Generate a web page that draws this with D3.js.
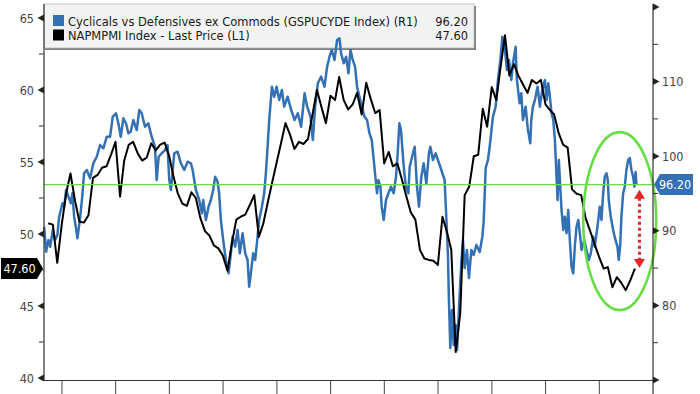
<!DOCTYPE html>
<html><head><meta charset="utf-8">
<script src="https://cdn.jsdelivr.net/npm/d3@7"></script>
<style>body{margin:0;background:#fff}svg{display:block}</style>
</head><body><svg id="c" width="700" height="394"></svg>
<script>
// ---------- DATA ----------
const legendNames = ["Cyclicals vs Defensives ex Commods (GSPUCYDE Index) (R1)", "NAPMPMI Index - Last Price (L1)"];
const lastCyc = "96.20", lastPmi = "47.60";
const lastCycValue = 96.20, lastPmiValue = 47.60;
const leftTicks = [40, 45, 50, 55, 60, 65];
const leftMinor = [42.5, 47.5, 52.5, 57.5, 62.5];
const rightTicks = [70, 80, 90, 100, 110, 120];
const rightLabels = [80, 90, 100, 110];
const rightMinor = [75, 85, 95, 105, 115];
const yearTicks = [2013, 2014, 2015, 2016, 2017, 2018, 2019, 2020, 2021, 2022, 2023];
// NAPM PMI monthly, Sep 2012 .. Aug 2023
const pmiValues = [
50.75,50.65,48.0,50.7,52.9,54.2,52.3,50.85,50.8,51.3,53.9,54.1,
54.6,54.7,55.5,56.4,52.6,55.1,56.2,56.4,55.6,55.1,55.3,56.3,
55.8,56.2,56.35,55.4,53.9,52.8,52.1,51.95,52.9,52.5,51.1,50.2,
49.9,49.2,49.0,48.5,47.45,49.3,51.0,51.2,51.35,52.0,52.7,49.8,
50.7,52.2,53.6,55.0,56.4,57.7,56.9,55.9,56.4,56.25,56.6,58.3,
60.0,58.8,57.7,59.6,59.3,60.9,59.3,58.65,59.0,59.8,58.3,60.5,
59.4,58.4,58.6,54.9,55.7,54.7,54.9,53.8,52.6,51.5,51.0,48.9,
48.3,48.2,48.15,47.85,51.2,50.2,48.9,41.8,44.5,52.7,53.3,55.4,
55.5,58.7,57.45,60.2,59.3,61.5,63.8,61.0,61.8,61.0,60.4,59.8,
60.7,60.45,60.7,59.0,58.6,58.3,57.0,56.2,56.0,53.1,52.8,52.7,
51.1,50.2,49.3,48.4,47.6,47.7,46.3,47.0,46.6,46.1,46.8,47.6];
// Cyclicals vs Defensives: [decimal year, value]
const cycSeries = [
[2012.669,90.55],[2012.706,87.2],[2012.749,88.77],[2012.781,87.87],[2012.831,90.11],[2012.873,88.77],[2012.916,89.44],[2012.948,91.89],[2012.979,92.79],[2013.009,93.69],
[2013.041,93.23],[2013.078,95.47],[2013.121,94.57],[2013.165,93.69],[2013.195,95.03],[2013.227,91.89],[2013.258,90.55],[2013.288,88.99],[2013.338,91.72],[2013.381,94.8],
[2013.412,97.71],[2013.463,98.15],[2013.524,97.04],[2013.585,99.05],[2013.648,99.93],[2013.71,101.5],[2013.771,101.06],[2013.834,102.61],[2013.896,102.61],[2013.946,105.3],
[2014.007,105.75],[2014.05,104.41],[2014.095,102.61],[2014.143,105.08],[2014.193,104.41],[2014.236,103.07],[2014.281,103.28],[2014.329,104.85],[2014.392,103.51],[2014.44,106.19],
[2014.485,105.75],[2014.546,103.95],[2014.608,104.41],[2014.671,102.61],[2014.732,101.27],[2014.764,96.81],[2014.801,99.93],[2014.857,100.39],[2014.918,100.83],[2014.965,101.5],
[2014.998,96.81],[2015.03,95.47],[2015.091,100.39],[2015.154,100.6],[2015.215,99.05],[2015.277,98.15],[2015.34,99.26],[2015.401,99.05],[2015.433,98.15],[2015.494,95.47],
[2015.556,94.13],[2015.606,92.35],[2015.63,94.13],[2015.68,91.45],[2015.73,93.23],[2015.773,94.13],[2015.816,95.47],[2015.853,97.25],[2015.898,96.58],[2015.927,95.03],
[2015.959,91.45],[2016.002,88.77],[2016.052,86.09],[2016.102,84.3],[2016.145,86.98],[2016.176,89.21],[2016.225,87.87],[2016.269,90.11],[2016.312,86.98],[2016.362,89.67],
[2016.411,86.98],[2016.455,86.09],[2016.485,82.51],[2016.516,84.3],[2016.559,86.98],[2016.596,86.09],[2016.641,89.21],[2016.671,91.45],[2016.721,93.23],[2016.764,95.03],
[2016.795,97.71],[2016.827,101.27],[2016.857,104.85],[2016.907,109.32],[2016.95,107.98],[2016.994,109.32],[2017.043,107.53],[2017.093,108.87],[2017.135,106.64],[2017.199,107.98],
[2017.266,106.19],[2017.329,104.85],[2017.39,105.75],[2017.451,103.95],[2017.515,108.43],[2017.563,106.64],[2017.626,105.3],[2017.669,102.17],[2017.712,106.64],[2017.762,109.77],
[2017.823,110.66],[2017.886,109.32],[2017.935,112.0],[2017.979,113.34],[2018.022,114.24],[2018.072,112.9],[2018.121,115.58],[2018.165,115.8],[2018.195,113.79],[2018.245,112.45],
[2018.288,113.34],[2018.332,111.11],[2018.37,114.24],[2018.412,112.9],[2018.455,112.0],[2018.492,109.32],[2018.537,107.98],[2018.58,106.64],[2018.63,105.3],[2018.678,104.85],
[2018.723,103.07],[2018.766,102.17],[2018.803,99.49],[2018.827,97.71],[2018.864,95.03],[2018.89,96.81],[2018.927,95.91],[2018.951,93.23],[2018.989,91.45],[2019.031,94.13],
[2019.076,95.03],[2019.124,95.91],[2019.174,95.03],[2019.217,97.25],[2019.249,100.39],[2019.28,104.41],[2019.31,103.51],[2019.342,100.39],[2019.373,97.71],[2019.403,95.91],
[2019.448,95.03],[2019.472,98.59],[2019.533,100.39],[2019.565,101.27],[2019.608,95.91],[2019.645,93.23],[2019.689,97.25],[2019.732,99.05],[2019.782,96.37],[2019.831,100.39],
[2019.857,101.27],[2019.905,99.49],[2019.955,100.39],[2019.998,99.49],[2020.061,98.15],[2020.122,96.81],[2020.154,91.72],[2020.184,86.76],[2020.202,80.72],[2020.228,74.29],
[2020.258,79.38],[2020.29,74.69],[2020.327,77.37],[2020.355,74.02],[2020.383,78.71],[2020.407,82.06],[2020.433,85.82],[2020.463,88.77],[2020.494,85.01],[2020.537,87.43],
[2020.574,83.67],[2020.619,87.43],[2020.661,86.76],[2020.712,88.1],[2020.773,87.16],[2020.823,89.21],[2020.847,91.18],[2020.885,98.42],[2020.927,99.49],[2020.959,101.27],
[2021.02,105.3],[2021.07,106.64],[2021.113,110.22],[2021.158,112.9],[2021.195,116.02],[2021.238,114.68],[2021.28,111.56],[2021.318,112.9],[2021.362,110.22],[2021.392,112.45],
[2021.442,114.68],[2021.466,110.22],[2021.516,107.09],[2021.548,108.43],[2021.578,104.85],[2021.628,106.64],[2021.671,103.51],[2021.715,101.73],[2021.734,104.85],[2021.764,106.64],
[2021.801,107.53],[2021.851,109.32],[2021.894,106.64],[2021.938,108.87],[2021.987,110.22],[2022.018,107.53],[2022.05,109.77],[2022.08,107.98],[2022.111,105.75],[2022.143,104.85],
[2022.173,102.17],[2022.204,97.25],[2022.223,94.13],[2022.247,99.49],[2022.273,95.91],[2022.297,92.79],[2022.329,90.11],[2022.358,91.89],[2022.39,89.67],[2022.422,92.79],
[2022.451,88.77],[2022.483,85.19],[2022.515,84.3],[2022.544,87.87],[2022.576,90.55],[2022.608,91.45],[2022.637,89.67],[2022.669,87.43],[2022.719,88.77],[2022.762,87.43],
[2022.805,86.09],[2022.842,86.98],[2022.886,89.21],[2022.916,87.87],[2022.966,90.55],[2023.009,93.23],[2023.041,91.45],[2023.072,95.03],[2023.102,97.25],[2023.134,97.71],
[2023.158,96.81],[2023.176,94.13],[2023.213,91.89],[2023.258,90.11],[2023.301,88.77],[2023.338,87.87],[2023.362,86.09],[2023.388,87.87],[2023.412,91.89],[2023.444,95.03],
[2023.474,95.91],[2023.505,98.15],[2023.537,99.49],[2023.567,99.76],[2023.598,98.15],[2023.63,97.25],[2023.654,95.91],[2023.676,97.88],[2023.691,96.2]];

// ---------- LAYOUT ----------
const L = 44, R = 653, T = 7, B = 380;
const FONT = "'DejaVu Sans Condensed','DejaVu Sans',sans-serif";
const BLUE = "#3470b4";
const GREEN = "#66dd44";
const svg = d3.select("#c");
svg.append("rect").attr("width",700).attr("height",394).attr("fill","#fff");

const x = d3.scaleTime().domain([new Date(2012,8,1), new Date(2024,0,1)]).range([L, R]);
const yL = d3.scaleLinear().domain([40, 65]).range([378, 18]);
const yR = d3.scaleLinear().domain([70, 120]).range([B, T]);

function decToDate(t){ const y = Math.floor(t); const a = new Date(y,0,1), b = new Date(y+1,0,1); return new Date(a.getTime() + (t-y)*(b-a)); }
const pmi = pmiValues.map((v,i) => ({d: new Date(2012, 9+i, 0), v}));
const cyc = cycSeries.map(([t,v]) => ({d: decToDate(t), v}));

// legend box (behind lines)
const lg = svg.append("g");
lg.append("rect").attr("x", L+1).attr("y", 6).attr("width", 431).attr("height", 44).attr("fill", "#7d7d7d");
lg.append("rect").attr("x", L).attr("y", 4).attr("width", 430).attr("height", 44).attr("fill", "#f3f3f3").attr("stroke", "#b8b8b8").attr("stroke-width", 0.8);
lg.append("rect").attr("x", 53).attr("y", 15).attr("width", 11).attr("height", 11).attr("fill", BLUE);
lg.append("rect").attr("x", 53).attr("y", 29.5).attr("width", 11).attr("height", 11).attr("fill", "#000");
const t1 = lg.append("text").attr("x", 68).attr("y", 25.5).text(legendNames[0]);
const t2 = lg.append("text").attr("x", 68).attr("y", 40).text(legendNames[1]);
[t1,t2].forEach(t => t.attr("font-family", FONT).attr("font-size", 13.5).attr("fill", "#1a1a1a"));
const w1 = t1.node().getComputedTextLength();
const fs = 13.5 * 350 / w1;
t1.attr("font-size", fs); t2.attr("font-size", fs);
lg.append("text").attr("x", 468).attr("y", 25.5).attr("text-anchor","end").text(lastCyc).attr("font-family", FONT).attr("font-size", fs).attr("fill","#1a1a1a");
lg.append("text").attr("x", 468).attr("y", 40).attr("text-anchor","end").text(lastPmi).attr("font-family", FONT).attr("font-size", fs).attr("fill","#1a1a1a");

// series
svg.append("path").datum(cyc)
  .attr("d", d3.line().x(d => x(d.d)).y(d => yR(d.v)))
  .attr("fill","none").attr("stroke", BLUE).attr("stroke-width", 2.5).attr("stroke-linejoin","round");
svg.append("path").datum(pmi)
  .attr("d", d3.line().x(d => x(d.d)).y(d => yL(d.v)))
  .attr("fill","none").attr("stroke", "#000").attr("stroke-width", 2).attr("stroke-linejoin","round");

// green horizontal line at last value
svg.append("line").attr("x1", L).attr("x2", R).attr("y1", yR(lastCycValue)).attr("y2", yR(lastCycValue))
  .attr("stroke", GREEN).attr("stroke-width", 1.3);

// ellipse annotation
svg.append("ellipse").attr("cx", x(new Date(2023,4,20))).attr("cy", yR(91.3)).attr("rx", 36.5).attr("ry", 89)
  .attr("fill","none").attr("stroke", GREEN).attr("stroke-width", 2.6);

// red dotted double arrow
const ax = x(new Date(2023,9,1));
const aTop = yR(95.5), aBot = yR(85.0);
svg.append("line").attr("x1", ax).attr("x2", ax).attr("y1", aTop+8).attr("y2", aBot-8)
  .attr("stroke", "#e4252b").attr("stroke-width", 3).attr("stroke-dasharray", "3,3");
svg.append("path").attr("d", `M${ax},${aTop} L${ax-5.5},${aTop+9} L${ax+5.5},${aTop+9} Z`).attr("fill", "#e4252b");
svg.append("path").attr("d", `M${ax},${aBot} L${ax-5.5},${aBot-9} L${ax+5.5},${aBot-9} Z`).attr("fill", "#e4252b");

// axes frame
svg.append("line").attr("x1", L).attr("x2", L).attr("y1", 4).attr("y2", B+0.5).attr("stroke","#333").attr("stroke-width",1.2);
svg.append("line").attr("x1", R).attr("x2", R).attr("y1", 4).attr("y2", 394).attr("stroke","#333").attr("stroke-width",1.2);
svg.append("line").attr("x1", L).attr("x2", R).attr("y1", B+0.5).attr("y2", B+0.5).attr("stroke","#333").attr("stroke-width",1.2);

// left axis
const gl = svg.append("g").attr("transform", `translate(${L-8},0)`)
  .call(d3.axisLeft(yL).tickValues(leftTicks).tickSize(0).tickPadding(2).tickFormat(d3.format("d")));
gl.select(".domain").remove();
gl.selectAll("text").attr("font-family", FONT).attr("font-size", 12.5).attr("fill", "#444");
leftTicks.forEach(v => { const y = yL(v); svg.append("path").attr("d", `M${L},${y-3.5} L${L-6.5},${y} L${L},${y+3.5} Z`).attr("fill","#222"); });
leftMinor.forEach(v => { const y = yL(v); svg.append("line").attr("x1", L-5).attr("x2", L).attr("y1", y).attr("y2", y).attr("stroke","#333"); });

// right axis
const gr = svg.append("g").attr("transform", `translate(${R+8},0)`)
  .call(d3.axisRight(yR).tickValues(rightLabels).tickSize(0).tickPadding(1).tickFormat(d3.format("d")));
gr.select(".domain").remove();
gr.selectAll("text").attr("font-family", FONT).attr("font-size", 12.5).attr("fill", "#444");
rightTicks.forEach(v => { const y = yR(v); svg.append("path").attr("d", `M${R},${y-3.5} L${R+6.5},${y} L${R},${y+3.5} Z`).attr("fill","#222"); });
rightMinor.forEach(v => { const y = yR(v); svg.append("line").attr("x1", R).attr("x2", R+5).attr("y1", y).attr("y2", y).attr("stroke","#333"); });

// bottom ticks (years)
yearTicks.forEach(yr => { const xx = x(new Date(yr,0,1)); svg.append("line").attr("x1", xx).attr("x2", xx).attr("y1", B).attr("y2", 394).attr("stroke","#444").attr("stroke-width",1); });

// last value tags
const yp = yL(lastPmiValue);
svg.append("path").attr("d", `M1,${yp-10.5} L37,${yp-10.5} L43,${yp} L37,${yp+10.5} L1,${yp+10.5} Z`).attr("fill","#000");
svg.append("text").attr("x", 19.5).attr("y", yp+4.5).attr("text-anchor","middle").text(lastPmi)
  .attr("font-family", FONT).attr("font-size", 12.5).attr("fill","#fff");
const yc = yR(lastCycValue);
svg.append("path").attr("d", `M${R+1},${yc} L${R+7},${yc-10.5} L693,${yc-10.5} L693,${yc+10.5} L${R+7},${yc+10.5} Z`).attr("fill", BLUE);
svg.append("text").attr("x", 675).attr("y", yc+4.5).attr("text-anchor","middle").text(lastCyc)
  .attr("font-family", FONT).attr("font-size", 12.5).attr("fill","#fff");
</script></body></html>
